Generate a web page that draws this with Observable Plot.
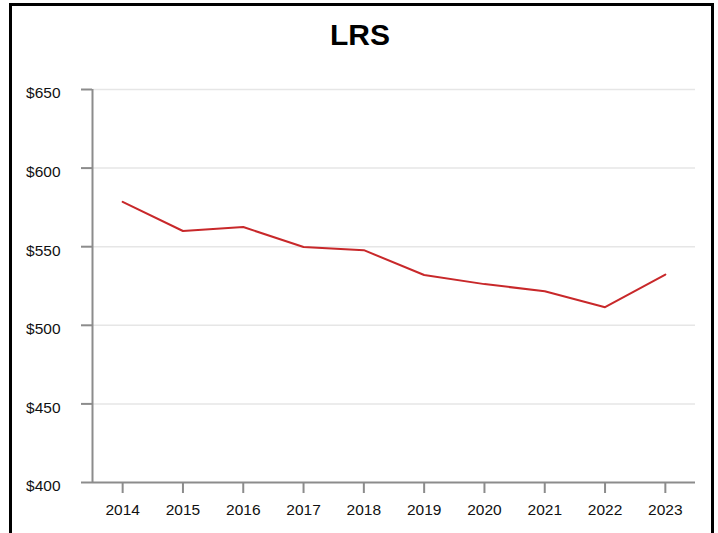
<!DOCTYPE html>
<html>
<head>
<meta charset="utf-8">
<script src="https://cdn.jsdelivr.net/npm/d3@7"></script>
<script src="https://cdn.jsdelivr.net/npm/@observablehq/plot@0.6"></script>
<style>
  html, body { margin: 0; padding: 0; background: #fff; }
  body { position: relative; width: 718px; height: 533px; overflow: hidden; font-family: "Liberation Sans", Arial, sans-serif; }
  #frame { position: absolute; left: 9px; top: 3px; width: 699px; height: 530px; border: 3px solid #000; box-sizing: content-box; pointer-events: none; }
  #title { position: absolute; left: 0; top: 17px; width: 720px; text-align: center; font-size: 30px; font-weight: bold; color: #000; line-height: 36px; }
  #chart { position: absolute; left: 0; top: 0; }
</style>
</head>
<body>
<div id="chart"></div>
<div id="frame"></div>
<div id="title">LRS</div>
<script>
const years = [2014, 2015, 2016, 2017, 2018, 2019, 2020, 2021, 2022, 2023];
const values = [578.5, 560, 562.5, 549.8, 547.8, 532, 526.2, 521.7, 511.5, 532.3];
const yTicks = [400, 450, 500, 550, 600, 650];
const title = "LRS";

const data = years.map((year, i) => ({year, value: values[i]}));
document.getElementById("title").textContent = title;

const chart = Plot.plot({
  width: 718,
  height: 533,
  marginLeft: 92,
  marginRight: 23,
  marginTop: 89,
  marginBottom: 51,
  style: {fontFamily: "'Liberation Sans', Arial, sans-serif", fontSize: "15.5px", color: "#111", background: "transparent"},
  x: {type: "linear", domain: [years[0] - 0.5, years[years.length - 1] + 0.5]},
  y: {domain: [yTicks[0], yTicks[yTicks.length - 1]]},
  marks: [
    Plot.ruleY(yTicks.slice(1), {stroke: "#e6e6e6", strokeWidth: 1.5}),
    Plot.line(data, {x: "year", y: "value", stroke: "#c8282a", strokeWidth: 2}),
    Plot.ruleX([years[0] - 0.5], {y1: yTicks[0], y2: yTicks[yTicks.length - 1], stroke: "#8c8c8c", strokeWidth: 2}),
    Plot.ruleY([yTicks[0]], {stroke: "#8c8c8c", strokeWidth: 2}),
    Plot.axisY({ticks: yTicks, tickFormat: () => "", tickSize: 11, stroke: "#8c8c8c", strokeWidth: 2, label: null}),
    Plot.text(yTicks, {y: d => d, text: d => "$" + d, frameAnchor: "left", textAnchor: "end", dx: -32, dy: 4, fill: "#111", fontSize: 15.5}),
    Plot.axisX({ticks: years, tickFormat: d => String(d), tickSize: 11, tickPadding: 10, stroke: "#8c8c8c", strokeWidth: 2, fill: "#111", label: null})
  ]
});
document.getElementById("chart").appendChild(chart);
</script>
</body>
</html>
